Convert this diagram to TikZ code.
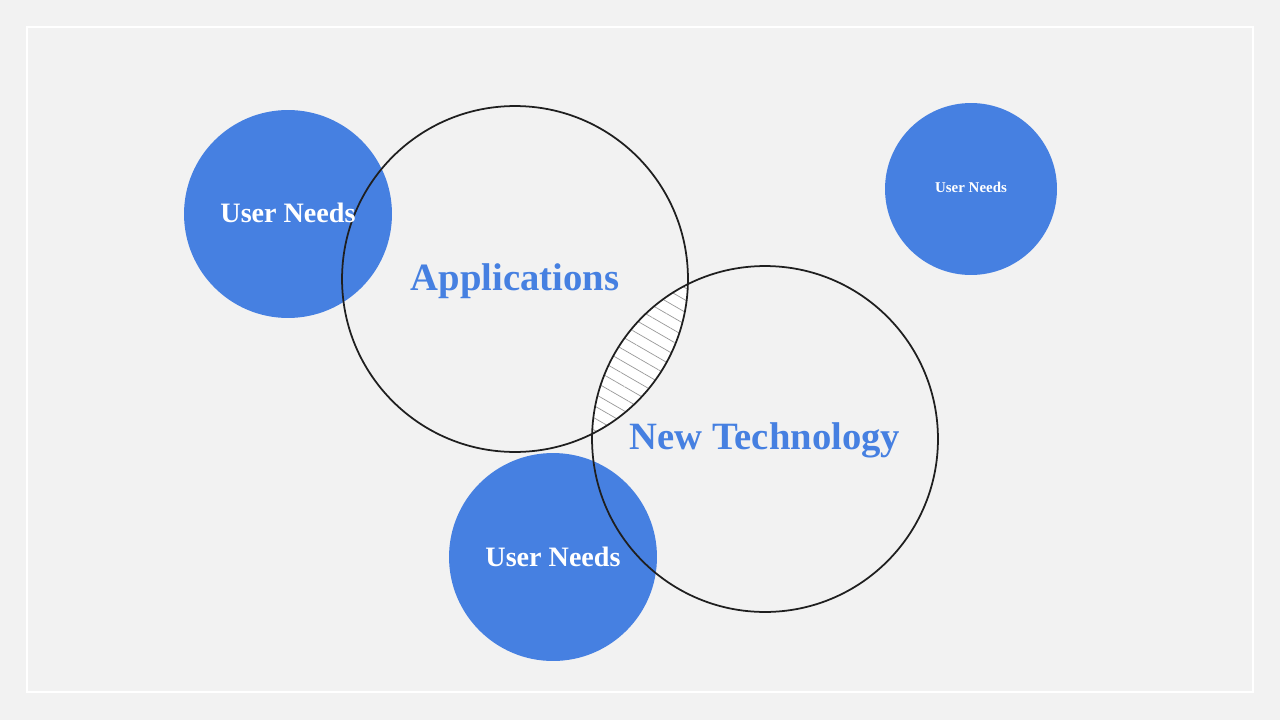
\documentclass[tikz,border=0pt]{standalone}
\usepackage{fontspec}
\setmainfont{Liberation Serif}
\usepackage{xcolor}
\usepackage{tikz}
\usetikzlibrary{patterns.meta}
\definecolor{needblue}{RGB}{70,128,225}
\definecolor{paper}{RGB}{242,242,242}

\begin{document}
\begin{tikzpicture}[x=0.02cm,y=-0.02cm,
  needs/.style={circle,fill=needblue,inner sep=0pt},
  ring/.style={circle,draw=black!88,line width=1pt,inner sep=0pt,minimum size=6.92cm},
  needtext/.style={text=white,font=\bfseries\fontsize{16}{18}\selectfont},
  bigtext/.style={text=needblue,font=\bfseries\fontsize{22}{26}\selectfont}]
\fill[paper](0,0)rectangle(1280,720);
\useasboundingbox(0,0)rectangle(1280,720);
\draw[white,line width=1.2pt](27,27)rectangle(1253,692);
% blue discs
\node[needs,minimum size=4.16cm](needsleft)at(288,214){};
\node[needs,minimum size=4.16cm](needsbottom)at(553,557){};
\node[needs,minimum size=3.44cm](needsright)at(971,189){};
% hatched overlap
\begin{scope}
\clip(515,279)circle(173);
\fill[white](765,439)circle(173);
\fill[pattern={Lines[angle=-30,distance=6pt,line width=0.4pt]},pattern color=black!40](765,439)circle(173);
\end{scope}
% outlines
\node[ring](apps)at(515,279){};
\node[ring](tech)at(765,439){};
% texts
\node[bigtext]at([yshift=-0.04cm]apps){Applications};
\node[bigtext]at([yshift=-0.02cm]tech){New Technology};
\node[needtext]at([yshift=0.02cm]needsleft){User Needs};
\node[needtext]at(needsbottom){User Needs};
\node[text=white,font=\bfseries\fontsize{8.5}{10}\selectfont]at([yshift=0.03cm]needsright){User Needs};
\end{tikzpicture}
\end{document}
